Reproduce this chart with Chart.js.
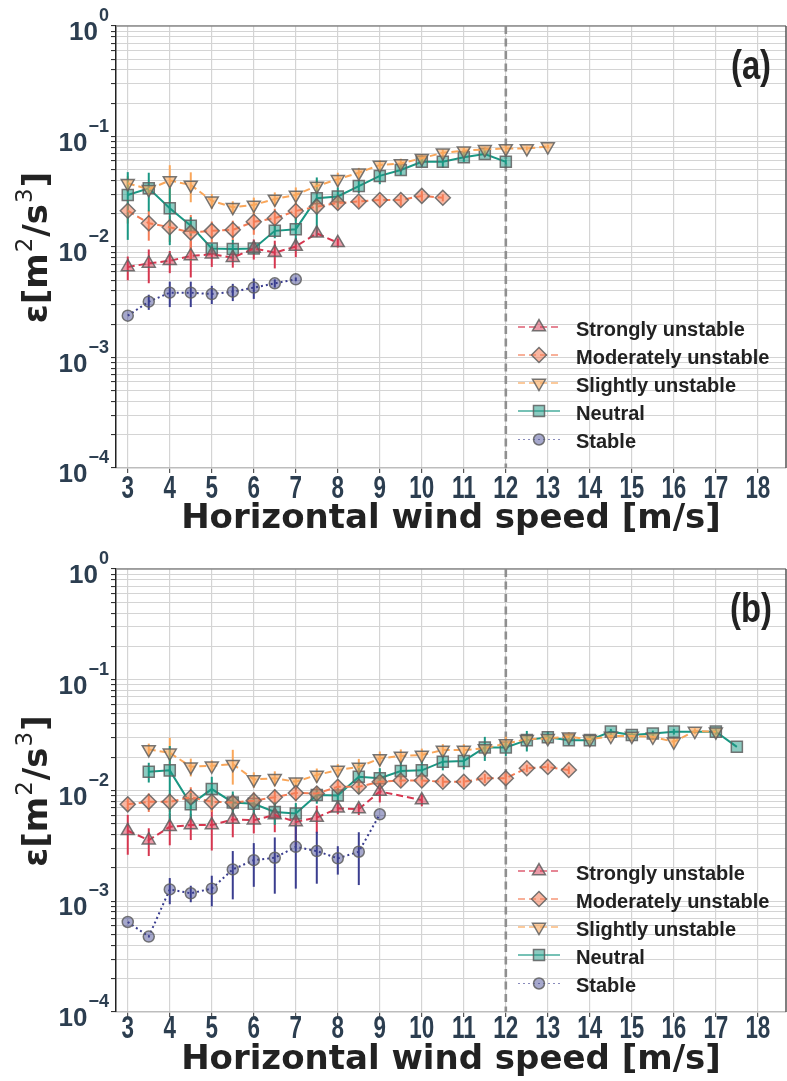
<!DOCTYPE html>
<html>
<head>
<meta charset="utf-8">
<script src="https://cdn.jsdelivr.net/npm/chart.js@4.4.1/dist/chart.umd.min.js"></script>
<style>
  body { margin: 0; background: #fff; }
  canvas { display: block; }
</style>
</head>
<body>
<canvas id="panelA" width="787" height="541"></canvas>
<canvas id="panelB" width="787" height="540"></canvas>
<script>
// Wind speed bins [m/s]
const windSpeed = [3, 3.5, 4, 4.5, 5, 5.5, 6, 6.5, 7, 7.5, 8, 8.5, 9, 9.5, 10, 10.5, 11, 11.5, 12, 12.5, 13, 13.5, 14, 14.5, 15, 15.5, 16, 16.5, 17, 17.5];
const xTicks = [3, 4, 5, 6, 7, 8, 9, 10, 11, 12, 13, 14, 15, 16, 17, 18];
const yDecades = [-4, -3, -2, -1, 0];
const yMinorSteps = [1, 2, 3, 4, 5, 6, 7, 8, 9];
const seriesNames = ['Strongly unstable', 'Moderately unstable', 'Slightly unstable', 'Neutral', 'Stable'];
const ratedSpeed = 12;

// (a) dissipation rate per stability class
const strongA = [0.0066, 0.0071, 0.0075, 0.0083, 0.0086, 0.0080, 0.0097, 0.0089, 0.0101, 0.0133, 0.0109];
const strongAErr = [0.0016, 0.0024, 0.0017, 0.0030, 0.0020, 0.0015, 0.0020, 0.0025, 0.0020, 0.0010, 0.0010];
const moderateA = [0.0213, 0.0164, 0.0151, 0.0135, 0.0140, 0.0143, 0.0169, 0.0182, 0.0212, 0.0232, 0.0250, 0.0258, 0.0266, 0.0266, 0.0290, 0.0279];
const moderateAErr = [0.005, 0.005, 0.004, 0.006, 0.003, 0.003, 0.004, 0.004, 0.004, 0.003, 0.003, 0.003, 0.003, 0.003, 0.003, 0.002];
const slightA = [0.0377, 0.0333, 0.0400, 0.0364, 0.0262, 0.0229, 0.0240, 0.0272, 0.0296, 0.0357, 0.0410, 0.0470, 0.0552, 0.0570, 0.0635, 0.0713, 0.0744, 0.0765, 0.0780, 0.0780, 0.0810];
const slightAErr = [0.006, 0.004, 0.015, 0.011, 0.004, 0.003, 0.004, 0.004, 0.005, 0.005, 0.006, 0.005, 0.006, 0.006, 0.006, 0.005, 0.005, 0.004, 0.004, 0.003, 0.003];
const neutralA = [0.0296, 0.0340, 0.0224, 0.0156, 0.0097, 0.0096, 0.0097, 0.0140, 0.0145, 0.0276, 0.0287, 0.0356, 0.0440, 0.0498, 0.0590, 0.0590, 0.0649, 0.0695, 0.0590];
const neutralAErr = [0.018, 0.013, 0.012, 0.003, 0.001, 0.002, 0.001, 0.002, 0.004, 0.015, 0.006, 0.005, 0.007, 0.005, 0.006, 0.007, 0.006, 0.004, 0.003];
const stableA = [0.00239, 0.0032, 0.00386, 0.00386, 0.00375, 0.00394, 0.00429, 0.00469, 0.0051];
const stableAErr = [0, 0.0005, 0.0010, 0.0010, 0.0007, 0.0007, 0.0009, 0.0004, 0.0002];

// (b)
const strongB = [0.00433, 0.00356, 0.0047, 0.00487, 0.00487, 0.00548, 0.0054, 0.0060, 0.0052, 0.0057, 0.0069, 0.0068, 0.0098, null, 0.0082];
const strongBErr = [0.0017, 0.0010, 0.0015, 0.0013, 0.0020, 0.0017, 0.0013, 0.0018, 0.0020, 0.0016, 0.0008, 0.0008, 0.0020, null, 0.0010];
const moderateB = [0.0075, 0.0079, 0.0079, 0.0087, 0.0079, 0.0078, 0.0081, 0.0087, 0.0095, 0.0094, 0.0108, 0.0108, 0.0120, 0.0123, 0.0123, 0.0120, 0.0120, 0.0129, 0.0129, 0.0159, 0.0163, 0.0153];
const moderateBErr = [0.001, 0.0015, 0.0015, 0.002, 0.0015, 0.0015, 0.0015, 0.0015, 0.0015, 0.0015, 0.0015, 0.0015, 0.0015, 0.0015, 0.0015, 0.0012, 0.0012, 0.0012, 0.0012, 0.0012, 0.0012, 0.0012];
const slightB = [null, 0.0235, 0.0219, 0.0164, 0.0167, 0.0173, 0.0126, 0.0129, 0.0120, 0.0138, 0.0153, 0.0163, 0.0195, 0.0205, 0.0209, 0.0232, 0.0232, 0.0240, 0.0266, 0.0290, 0.0296, 0.0306, 0.0290, 0.0310, 0.0310, 0.0305, 0.0275, 0.0344, 0.0340];
const slightBErr = [null, 0.003, 0.008, 0.003, 0.002, 0.006, 0.002, 0.002, 0.001, 0.002, 0.002, 0.003, 0.003, 0.003, 0.003, 0.003, 0.003, 0.003, 0.004, 0.003, 0.003, 0.003, 0.003, 0.002, 0.002, 0.002, 0.003, 0.002, 0.002];
const neutralB = [null, 0.0148, 0.0152, 0.0075, 0.0103, 0.0078, 0.0076, 0.0064, 0.0062, 0.0091, 0.0090, 0.0133, 0.0129, 0.0150, 0.0152, 0.0182, 0.0185, 0.0245, 0.0245, 0.0285, 0.0302, 0.0285, 0.0285, 0.0340, 0.0317, 0.0327, 0.0340, null, 0.0340, 0.0248];
const neutralBErr = [null, 0.003, 0.010, 0.002, 0.003, 0.002, 0.0015, 0.0015, 0.0015, 0.0015, 0.0015, 0.004, 0.003, 0.003, 0.003, 0.003, 0.003, 0.006, 0.004, 0.006, 0.004, 0.003, 0.003, 0.002, 0.002, 0.002, 0.002, null, 0.002, 0];
const stableB = [0.00065, 0.00048, 0.00128, 0.00118, 0.0013, 0.00194, 0.00235, 0.00247, 0.0031, 0.00284, 0.00244, 0.0028, 0.0061];
const stableBErr = [0, 0, 0.00034, 0.0002, 0.0004, 0.0009, 0.0010, 0.0013, 0.0018, 0.0014, 0.0007, 0.0014, 0];

// Look of each stability class
const styles = [
  { line: '#d6364f', fill: 'rgba(214,54,79,0.5)', dash: [7, 4], point: 'triangle', rot: 0, r: 7.5 },
  { line: '#f47c55', fill: 'rgba(244,124,85,0.55)', dash: [7, 4], point: 'rectRot', rot: 0, r: 7.5 },
  { line: '#f9a65a', fill: 'rgba(249,166,90,0.6)', dash: [7, 4], point: 'triangle', rot: 180, r: 7.5 },
  { line: '#1a9783', fill: 'rgba(26,151,131,0.5)', dash: [], point: 'rect', rot: 0, r: 7.8 },
  { line: '#3a3d8f', fill: 'rgba(58,61,143,0.45)', dash: [2, 3], point: 'circle', rot: 0, r: 5.5 }
];
const legendRows = [141, 113, 85, 57, 28.5];
const tickColor = '#2c3e50';
const sansFont = "'Liberation Sans', Arial, sans-serif";
const heavyFont = "'DejaVu Sans', sans-serif";

function buildDatasets(valueLists, errorLists) {
  return valueLists.map((vals, k) => {
    const s = styles[k];
    return {
      label: seriesNames[k],
      data: vals.map((v, i) => ({ x: windSpeed[i], y: v })),
      errors: errorLists[k],
      borderColor: s.line,
      borderWidth: 2,
      borderDash: s.dash,
      backgroundColor: s.fill,
      pointStyle: s.point,
      pointRotation: s.rot,
      pointRadius: s.r,
      pointBackgroundColor: s.fill,
      pointBorderColor: 'rgba(95,95,95,0.85)',
      pointBorderWidth: 1.5,
      spanGaps: true,
      tension: 0
    };
  });
}

// narrow text: regular face squeezed horizontally
function squeezedText(ctx, text, x, y, sx) {
  ctx.save();
  ctx.translate(x, y);
  ctx.scale(sx, 1);
  ctx.fillText(text, 0, 0);
  ctx.restore();
}

// Error bars, reference line, labels, legend and frame
const decorPlugin = {
  id: 'decor',
  beforeDatasetsDraw(chart) {
    const { ctx, chartArea: a, scales: { x, y } } = chart;
    ctx.save();
    ctx.beginPath();
    ctx.rect(a.left, a.top, a.right - a.left, a.bottom - a.top);
    ctx.clip();
    // rated wind speed
    const xr = x.getPixelForValue(ratedSpeed);
    ctx.strokeStyle = '#8f8f8f';
    ctx.lineWidth = 2.6;
    ctx.setLineDash([8, 4.5]);
    ctx.beginPath();
    ctx.moveTo(xr, a.top);
    ctx.lineTo(xr, a.bottom);
    ctx.stroke();
    ctx.setLineDash([]);
    chart.data.datasets.forEach(ds => {
      ctx.strokeStyle = ds.borderColor;
      ctx.lineWidth = 2;
      ds.data.forEach((p, i) => {
        const e = ds.errors[i];
        if (p.y == null || !e) return;
        const lo = Math.max(p.y - e, 1e-4);
        const px = x.getPixelForValue(p.x);
        ctx.beginPath();
        ctx.moveTo(px, y.getPixelForValue(lo));
        ctx.lineTo(px, y.getPixelForValue(p.y + e));
        ctx.stroke();
      });
    });
    ctx.restore();
  },
  afterDraw(chart) {
    const { ctx, chartArea: a, scales: { x, y } } = chart;
    const opts = chart.options.plugins.decor;
    ctx.save();

    // frame top and right
    ctx.lineWidth = 1.5;
    ctx.strokeStyle = '#8a8a8a';
    ctx.beginPath();
    ctx.moveTo(a.left, a.top);
    ctx.lineTo(a.right, a.top);
    ctx.stroke();
    ctx.strokeStyle = '#555';
    ctx.beginPath();
    ctx.moveTo(a.right, a.top);
    ctx.lineTo(a.right, a.bottom);
    ctx.stroke();

    // x tick labels (condensed)
    ctx.fillStyle = tickColor;
    ctx.textAlign = 'center';
    ctx.textBaseline = 'middle';
    ctx.font = 'bold 32px ' + sansFont;
    x.ticks.forEach(t => {
      squeezedText(ctx, String(t.value), x.getPixelForValue(t.value), a.bottom + opts.tickGap, 0.7);
    });

    // y tick labels 10^k
    ctx.textBaseline = 'alphabetic';
    ctx.textAlign = 'right';
    yDecades.forEach(k => {
      const ty = y.getPixelForValue(Math.pow(10, k));
      const exp = k === 0 ? '0' : '\u2212' + Math.abs(k);
      ctx.font = 'bold 18px ' + sansFont;
      const ew = ctx.measureText(exp).width;
      ctx.fillText(exp, 109, ty - 5);
      ctx.font = 'bold 26px ' + sansFont;
      ctx.fillText('10', 108 - ew, ty + 14);
    });

    // y title  ε[m²/s³]
    const parts = [
      { t: '\u03b5[m', f: 'bold 34px ' + heavyFont, dy: 0 },
      { t: '2', f: '23px ' + heavyFont, dy: -15 },
      { t: '/s', f: 'bold 34px ' + heavyFont, dy: 0 },
      { t: '3', f: '23px ' + heavyFont, dy: -15 },
      { t: ']', f: 'bold 34px ' + heavyFont, dy: 0 }
    ];
    let total = 0;
    parts.forEach(p => { ctx.font = p.f; p.w = ctx.measureText(p.t).width; total += p.w + 1; });
    ctx.save();
    ctx.translate(37, (a.top + a.bottom) / 2);
    ctx.rotate(-Math.PI / 2);
    ctx.fillStyle = '#222';
    ctx.textAlign = 'left';
    let cx = -total / 2;
    parts.forEach(p => { ctx.font = p.f; ctx.fillText(p.t, cx, 10 + p.dy); cx += p.w + 1; });
    ctx.restore();

    // x title
    ctx.fillStyle = '#222';
    ctx.textAlign = 'center';
    ctx.textBaseline = 'middle';
    ctx.font = 'bold 34px ' + heavyFont;
    ctx.fillText('Horizontal wind speed [m/s]', (a.left + a.right) / 2, a.bottom + opts.titleGap);

    // panel tag
    ctx.font = 'bold 40px ' + sansFont;
    squeezedText(ctx, opts.tag, 751, a.top + 42, 0.82);

    // legend
    chart.data.datasets.forEach((ds, k) => {
      const ry = a.bottom - legendRows[k];
      ctx.save();
      ctx.globalAlpha = 0.6;
      ctx.strokeStyle = ds.borderColor;
      ctx.lineWidth = ds.borderDash.length && ds.borderDash[0] < 3 ? 1.2 : 1.8;
      ctx.setLineDash(ds.borderDash);
      ctx.beginPath();
      ctx.moveTo(518, ry);
      ctx.lineTo(560, ry);
      ctx.stroke();
      ctx.restore();
      ctx.fillStyle = ds.pointBackgroundColor;
      ctx.strokeStyle = ds.pointBorderColor;
      ctx.lineWidth = ds.pointBorderWidth;
      Chart.helpers.drawPoint(ctx, { pointStyle: ds.pointStyle, rotation: ds.pointRotation, radius: ds.pointRadius, borderWidth: ds.pointBorderWidth }, 539, ry);
      ctx.fillStyle = '#222';
      ctx.textAlign = 'left';
      ctx.textBaseline = 'middle';
      ctx.font = 'bold 20px ' + sansFont;
      ctx.fillText(ds.label, 576, ry + 3);
    });
    ctx.restore();
  }
};

function buildPanel(id, tag, valueLists, errorLists, topPad, axisHeight, tickGap, titleGap) {
  return new Chart(document.getElementById(id), {
    type: 'line',
    data: { datasets: buildDatasets(valueLists, errorLists) },
    plugins: [decorPlugin],
    options: {
      responsive: false,
      animation: false,
      devicePixelRatio: 1,
      layout: { autoPadding: false, padding: { top: topPad, right: 1, left: 0, bottom: 0 } },
      plugins: {
        legend: { display: false },
        tooltip: { enabled: false },
        decor: { tag: tag, tickGap: tickGap, titleGap: titleGap }
      },
      scales: {
        x: {
          type: 'linear',
          min: 2.72,
          max: 18.67,
          afterBuildTicks: scale => { scale.ticks = xTicks.map(v => ({ value: v })); },
          afterFit: scale => { scale.height = axisHeight; },
          ticks: { display: false },
          grid: { color: '#d4d4d4', lineWidth: 1.2, tickLength: 5, tickColor: '#555' },
          border: { color: '#bdbdbd', width: 1.5 }
        },
        y: {
          type: 'logarithmic',
          min: 1e-4,
          max: 1,
          afterBuildTicks: scale => {
            const t = [];
            yDecades.forEach(k => {
              yMinorSteps.forEach(m => {
                if (k < 0 || m === 1) t.push({ value: m * Math.pow(10, k) });
              });
            });
            scale.ticks = t;
          },
          afterFit: scale => { scale.width = 116; },
          ticks: { display: false },
          grid: { color: '#d4d4d4', lineWidth: 1.1, tickLength: 5, tickColor: '#333' },
          border: { color: '#222', width: 1.5 }
        }
      }
    }
  });
}

buildPanel('panelA', '(a)',
  [strongA, moderateA, slightA, neutralA, stableA],
  [strongAErr, moderateAErr, slightAErr, neutralAErr, stableAErr], 26, 73, 21, 51);
buildPanel('panelB', '(b)',
  [strongB, moderateB, slightB, neutralB, stableB],
  [strongBErr, moderateBErr, slightBErr, neutralBErr, stableBErr], 28, 69, 17, 48);
</script>
</body>
</html>
